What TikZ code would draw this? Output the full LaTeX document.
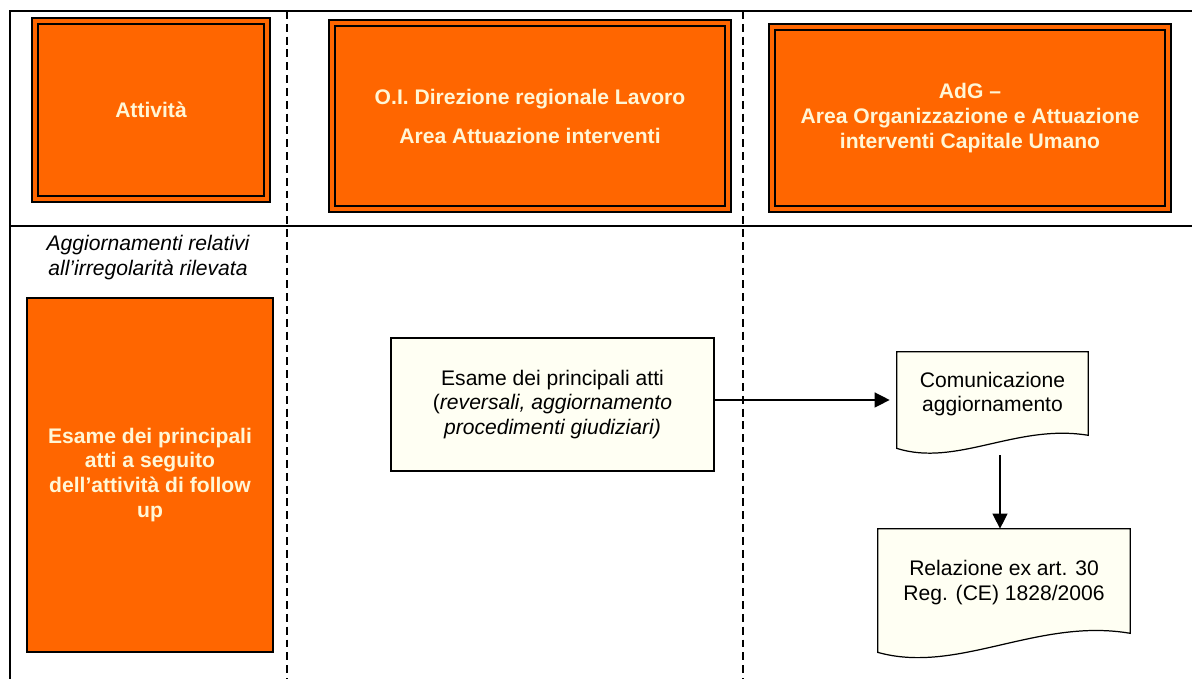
\documentclass[tikz,border=0pt]{standalone}
\usepackage{fontspec}
\setmainfont{Liberation Sans}
\usetikzlibrary{
  arrows.meta,
  positioning,
  calc
}
\definecolor{orangebox}{RGB}{255,102,0}
\definecolor{headtext}{RGB}{255,246,214}
\definecolor{docfill}{RGB}{255,255,243}

\begin{document}
\begin{tikzpicture}[
  every node/.style={font=\fontsize{12}{14}\selectfont},
  headbox/.style={draw=black, line width=1.1pt, double=orangebox, double distance=2.2pt,
                fill=orangebox, inner sep=0pt, align=center, text=headtext,
                font=\fontsize{12}{14.2}\selectfont\bfseries},
  actbox/.style={draw=black, line width=0.7pt, fill=orangebox, align=center, text=headtext,
                font=\fontsize{12}{14.2}\selectfont\bfseries},
  stepbox/.style={draw=black, line width=0.7pt, fill=docfill, align=center},
  docbox/.style={inner sep=0pt},
  docline/.style={draw=black, line width=0.7pt, fill=docfill},
  laneline/.style={line width=0.7pt, dash pattern=on 4.5pt off 2.8pt},
  frameline/.style={line width=1.1pt},
  flowarrow/.style={-{Triangle[length=0.3cm, width=0.3cm]}, line width=0.75pt},
  >=Stealth
]

\useasboundingbox (0,0) rectangle (23.84,13.58);

\draw[frameline] (0.2,0) -- (0.2,13.36) -- (23.84,13.36);
\draw[frameline] (0.2,9.06) -- (23.84,9.06);
\draw[laneline] (5.74,13.36) -- (5.74,0);
\draw[laneline] (14.86,13.36) -- (14.86,0);

\node[headbox, minimum width=4.64cm, minimum height=3.56cm] (hact) at (3.02,11.38) {Attività};
\node[headbox, minimum width=7.92cm, minimum height=3.72cm] (hoi) at (10.6,11.26)
  {O.I. Direzione regionale Lavoro\\[8pt]Area Attuazione interventi};
\node[headbox, minimum width=7.92cm, minimum height=3.64cm] (hadg) at (19.4,11.22)
  {AdG –\\Area Organizzazione e Attuazione\\interventi Capitale Umano};

\node[font=\fontsize{12}{14}\selectfont\itshape, align=center] (actnote) at (2.96,8.43)
  {Aggiornamenti relativi\\all’irregolarità rilevata};
\node[actbox, minimum width=4.92cm, minimum height=7.08cm] (act) at (3.0,4.08)
  {Esame dei principali\\atti a seguito\\dell’attività di follow\\up};

\node[stepbox, minimum width=6.46cm, minimum height=2.66cm] (esame) at (11.05,5.49)
  {Esame dei principali atti\\(\textit{reversali, aggiornamento}\\\textit{procedimenti giudiziari)}};

\node[docbox, minimum width=3.82cm, minimum height=1.92cm] (comm) at (19.85,5.58) {};
\draw[docline] (comm.south west) -- (comm.north west) -- (comm.north east) -- ([yshift=0.26cm]comm.south east)
  .. controls ($(comm.south west)+(2.4,0.5)$) and ($(comm.south west)+(1.2,-0.38)$) .. (comm.south west) -- cycle;
\node[align=center] (commtxt) at ($(comm.center)+(0,0.12)$) {Comunicazione\\aggiornamento};

\node[docbox, minimum width=5.04cm, minimum height=2.46cm] (rel) at (20.08,1.77) {};
\draw[docline] (rel.south west) -- (rel.north west) -- (rel.north east) -- ([yshift=0.38cm]rel.south east)
  .. controls ($(rel.south west)+(3.2,0.7)$) and ($(rel.south west)+(1.6,-0.45)$) .. (rel.south west) -- cycle;
\node[align=center] (reltxt) at ($(rel.center)+(0,0.16)$) {Relazione ex art. 30\\Reg. (CE) 1828/2006};

\coordinate (drop) at ($(comm.south)+(0.15,-0.14)$);
\draw[flowarrow, shorten >=0.14cm] (esame.east |- comm.west) -- (comm.west);
\draw[flowarrow] (drop) -- (drop |- rel.north);

\end{tikzpicture}
\end{document}
